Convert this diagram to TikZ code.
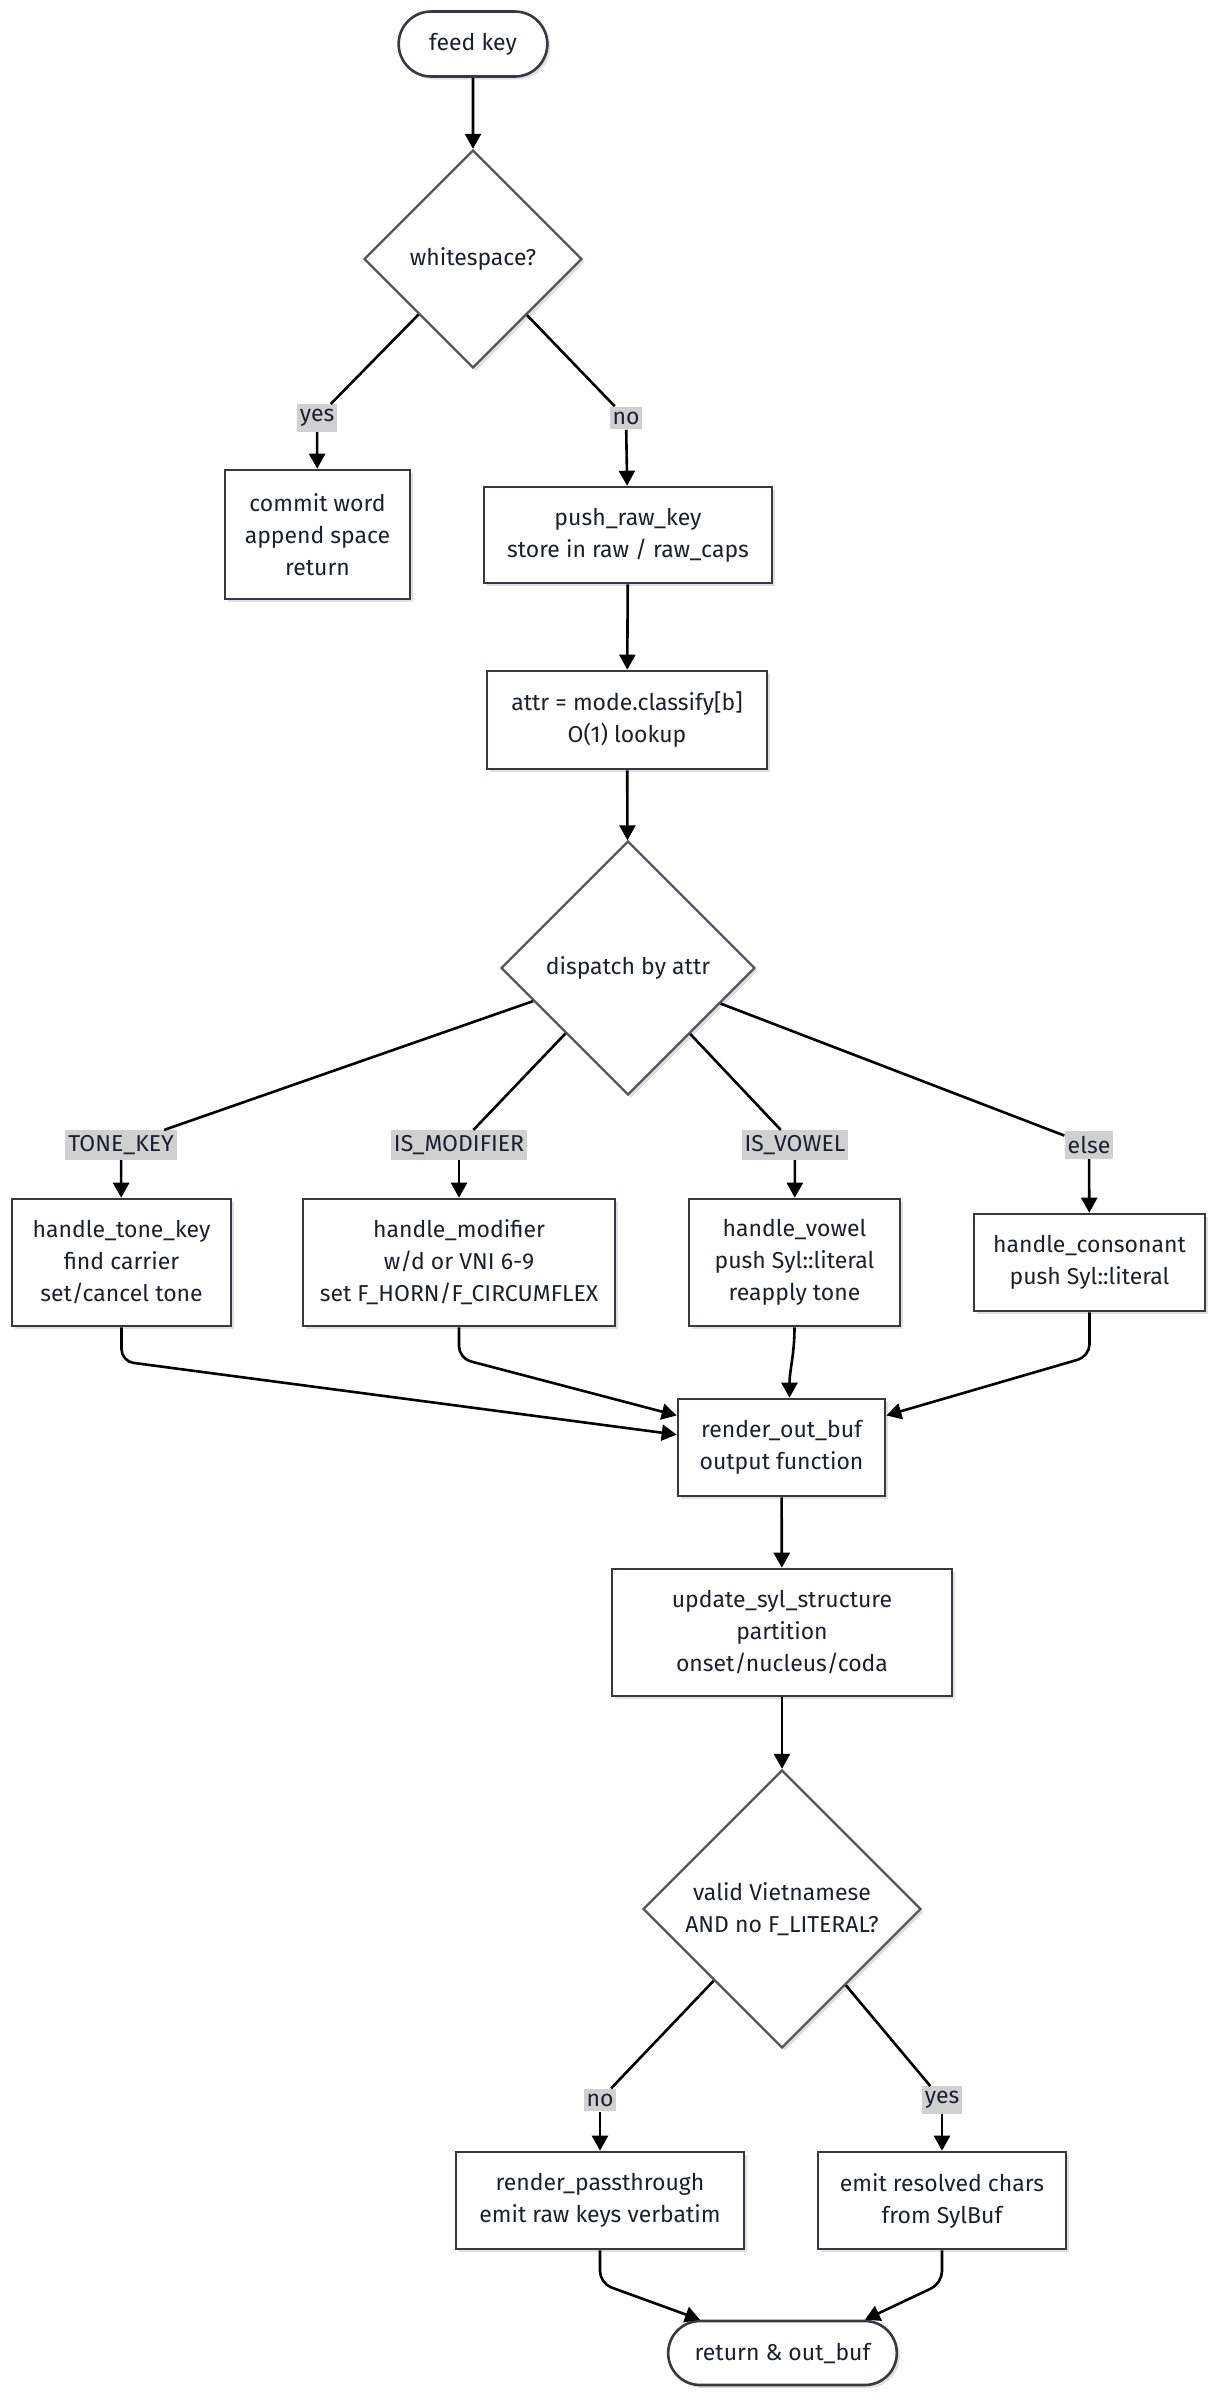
\documentclass[tikz,border=0pt]{standalone}
\usepackage{fontspec}
\setmainfont{Fira Sans}
\usetikzlibrary{shapes.geometric,shapes.misc,arrows.meta,shadows}
\definecolor{txt}{RGB}{30,30,50}
\definecolor{edgecol}{RGB}{55,55,70}
\definecolor{lblgray}{RGB}{208,208,208}

\begin{document}
\begin{tikzpicture}[
  x=0.5pt, y=-0.5pt,
  font=\fontsize{11.5}{16}\selectfont,
  shade/.style={drop shadow={shadow xshift=1.5pt, shadow yshift=-1.5pt, opacity=0.12, fill=black}},
  box/.style={rectangle, draw=edgecol, line width=1.3pt, fill=white, text=txt,
    align=center, inner sep=2pt, shade},
  choice/.style={diamond, draw=edgecol!85, line width=1.2pt, fill=white, text=txt,
    align=center, inner sep=0pt, shade},
  term/.style={rounded rectangle, draw=edgecol, line width=1.3pt, fill=white, text=txt,
    align=center, shade},
  lbl/.style={fill=lblgray, inner xsep=1.5pt, inner ysep=2.5pt, text=txt},
  line/.style={line width=1.3pt, black},
  arr/.style={line, -{Triangle[length=7.5pt, width=8pt]}}
]
\useasboundingbox[fill=white] (0,0) rectangle (1217,2400);

\node[term, minimum width=81pt, minimum height=32.5pt] (feed) at (473,44) {feed key};
\node[choice, minimum width=109pt, minimum height=109pt] (ws) at (473,259) {whitespace?};
\node[box, minimum width=92.5pt, minimum height=64.5pt] (commit) at (317.5,534.5) {commit word\\append space\\return};
\node[box, minimum width=144pt, minimum height=48pt] (push) at (628,535) {push\_raw\_key\\store in raw / raw\_caps};
\node[box, minimum width=140pt, minimum height=49pt] (attr) at (627,720) {attr = mode.classify[b]\\O(1) lookup};
\node[choice, minimum width=127pt, minimum height=127pt] (disp) at (628,968) {dispatch by attr};

\node[box, minimum width=109.5pt, minimum height=63.5pt] (tone) at (121.5,1262.5) {handle\_tone\_key\\find carrier\\set/cancel tone};
\node[box, minimum width=156pt, minimum height=63.5pt] (modif) at (459,1262.5) {handle\_modifier\\w/d or VNI 6-9\\set F\_HORN/F\_CIRCUMFLEX};
\node[box, minimum width=105.5pt, minimum height=63.5pt] (vowel) at (794.5,1262.5) {handle\_vowel\\push Syl::literal\\reapply tone};
\node[box, minimum width=115.5pt, minimum height=48.5pt] (conson) at (1089.5,1262.5) {handle\_consonant\\push Syl::literal};

\node[box, minimum width=103.5pt, minimum height=48.5pt] (render) at (781.5,1447.5) {render\_out\_buf\\output function};
\node[box, minimum width=170pt, minimum height=63.5pt] (update) at (782,1632.5) {update\_syl\_structure\\partition\\onset/nucleus/coda};
\node[choice, minimum width=139pt, minimum height=139pt] (valid) at (782,1909) {valid Vietnamese\\AND no F\_LITERAL?};
\node[box, minimum width=144pt, minimum height=48.5pt] (pass) at (600,2200.5) {render\_passthrough\\emit raw keys verbatim};
\node[box, minimum width=124pt, minimum height=48.5pt] (emit) at (942,2200.5) {emit resolved chars\\from SylBuf};
\node[term, minimum width=121pt, minimum height=32pt] (ret) at (782.5,2353) {return \& out\_buf};

\node[lbl] (lyes)  at (317,418)  {yes};
\node[lbl] (lno)   at (626,418)  {no};
\node[lbl] (ltone) at (121,1145) {TONE\_KEY};
\node[lbl] (lmod)  at (459,1145) {IS\_MODIFIER};
\node[lbl] (lvow)  at (795,1145) {IS\_VOWEL};
\node[lbl] (lelse) at (1089,1145) {else};
\node[lbl] (lno2)  at (600,2100) {no};
\node[lbl] (lyes2) at (942,2100) {yes};

\draw[arr] (feed) -- (ws);
\draw[line] (ws) -- (lyes);
\draw[arr] (lyes) -- (commit);
\draw[line] (ws) -- (lno);
\draw[arr] (lno) -- (push);
\draw[arr] (push) -- (attr);
\draw[arr] (attr) -- (disp);
\foreach \l/\b in {ltone/tone, lmod/modif, lvow/vowel, lelse/conson} {
  \draw[line] (disp) -- (\l);
  \draw[arr] (\l) -- (\b);
}
\draw[arr, rounded corners=6pt] (tone.south) -- ++(0,34) -- (render.173);
\draw[arr, rounded corners=6pt] (modif.south) -- ++(0,31) -- (render.163);
\draw[arr] (vowel.south) to[out=-90, in=90] ([xshift=-2.5pt]vowel.south |- render.north);
\draw[arr, rounded corners=6pt] (conson.south) -- ++(0,44) -- (render.17);
\draw[arr] (render) -- (update);
\draw[arr] (update) -- (valid);
\draw[line] (valid) -- (lno2);
\draw[arr] (lno2) -- (pass);
\draw[line] (valid) -- (lyes2);
\draw[arr] (lyes2) -- (emit);
\draw[arr, rounded corners=6pt] (pass.south) -- ++(0,33) -- (ret.158);
\draw[arr, rounded corners=6pt] (emit.south) -- ++(0,33) -- (ret.22);
\end{tikzpicture}
\end{document}
